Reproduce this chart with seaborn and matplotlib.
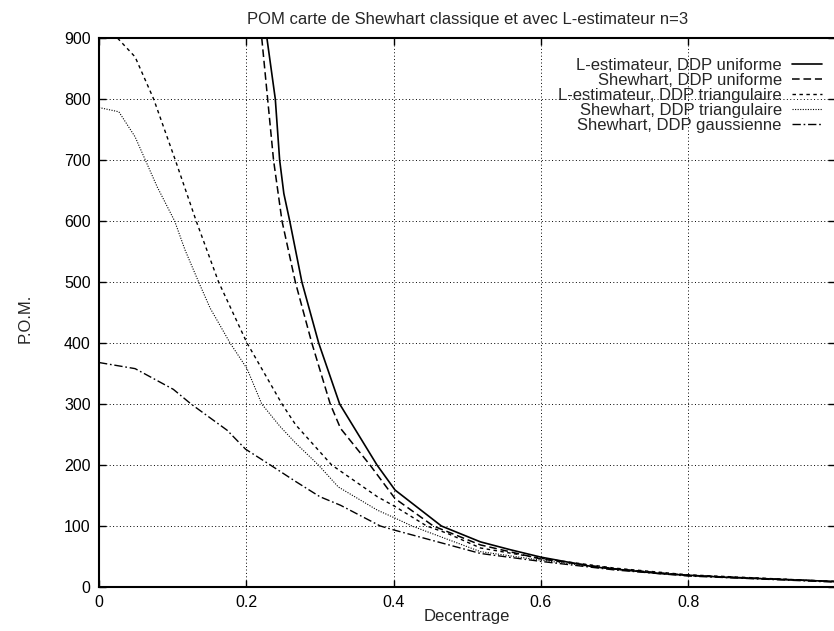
import matplotlib
matplotlib.use("Agg")
import matplotlib.pyplot as plt
import seaborn as sns
import pandas as pd

# ---- data ----
title = "POM carte de Shewhart classique et avec L-estimateur n=3"
xlabel = "Decentrage"
ylabel = "P.O.M."

labels = [
    "L-estimateur, DDP uniforme",
    "Shewhart, DDP uniforme",
    "L-estimateur, DDP triangulaire",
    "Shewhart, DDP triangulaire",
    "Shewhart, DDP gaussienne",
]

x_lest_unif = [0.228, 0.2394, 0.2453, 0.251, 0.259, 0.2755, 0.2983, 0.3268, 0.3775,
               0.402, 0.465, 0.518, 0.559, 0.60, 0.672, 0.762, 0.85, 1.0]
y_lest_unif = [900, 800, 700, 645, 600, 500, 400, 300, 200,
               159, 100, 74, 61, 49, 33, 22, 16, 9]

x_shew_unif = [0.221, 0.229, 0.237, 0.2485, 0.2666, 0.289, 0.314, 0.328, 0.368,
               0.402, 0.454, 0.518, 0.60, 0.70, 0.80, 1.0]
y_shew_unif = [900, 800, 700, 600, 500, 400, 300, 260, 200,
               145, 100, 69, 46, 30, 19, 9]

x_lest_tri = [0.0, 0.025, 0.049, 0.0742, 0.1036, 0.132, 0.1624, 0.201, 0.2485,
              0.267, 0.316, 0.378, 0.402, 0.445, 0.473, 0.518, 0.60, 0.70, 0.80, 1.0]
y_lest_tri = [915, 900, 869, 800, 700, 600, 500, 400, 300,
              266, 200, 148, 132, 100, 88, 64, 47, 31, 20, 9]

x_shew_tri = [0.0, 0.027, 0.049, 0.0629, 0.079, 0.1027, 0.117, 0.1353, 0.151, 0.178,
              0.201, 0.221, 0.246, 0.267, 0.298, 0.325, 0.378, 0.402, 0.425, 0.518,
              0.60, 0.70, 0.80, 1.0]
y_shew_tri = [786, 779, 738, 700, 656, 600, 552, 500, 457, 400,
              358, 300, 263, 236, 200, 164, 126, 113, 100, 58,
              44, 29, 19, 9]

x_shew_gauss = [0.0, 0.049, 0.101, 0.125, 0.174, 0.199, 0.2327, 0.267, 0.300, 0.328,
                0.382, 0.402, 0.518, 0.60, 0.70, 0.80, 1.0]
y_shew_gauss = [368, 358, 324, 300, 257, 226, 200, 173, 148, 134,
                100, 93, 55, 42, 28, 18, 8]

xticks = [0, 0.2, 0.4, 0.6, 0.8]
xticklabels = ["0", "0.2", "0.4", "0.6", "0.8"]
yticks = [0, 100, 200, 300, 400, 500, 600, 700, 800, 900]

series_x = [x_lest_unif, x_shew_unif, x_lest_tri, x_shew_tri, x_shew_gauss]
series_y = [y_lest_unif, y_shew_unif, y_lest_tri, y_shew_tri, y_shew_gauss]

styles = [
    dict(linestyle="-", linewidth=1.2),
    dict(linestyle=(0, (5, 2.5)), linewidth=1.1),
    dict(linestyle=(0, (2.5, 2.5)), linewidth=1.0),
    dict(linestyle=(0, (1, 1.3)), linewidth=0.8),
    dict(linestyle=(0, (6, 2, 1.2, 2)), linewidth=1.0),
]

# ---- plot ----
sns.set_style("ticks")
plt.rcParams["font.family"] = ["Liberation Sans", "DejaVu Sans"]
plt.rcParams["font.size"] = 12

fig = plt.figure(figsize=(8.34, 6.31), dpi=100)
ax = fig.add_axes([0.1187, 0.0697, 0.8830, 0.8701])

for xs, ys, lab, st in zip(series_x, series_y, labels, styles):
    df = pd.DataFrame({"x": xs, "y": ys})
    sns.lineplot(data=df, x="x", y="y", ax=ax, color="black", label=lab,
                 estimator=None, sort=True, **st)

ax.set_xlim(0, 1)
ax.set_ylim(0, 900)
ax.set_xticks(xticks)
ax.set_xticklabels(xticklabels)
ax.set_yticks(yticks)
ax.grid(True, color="black", linestyle=(0, (1, 2.5)), linewidth=0.7)
ax.set_axisbelow(True)

ax.tick_params(direction="in", length=5, width=1.0, top=True, right=True,
               labelsize=11.5, colors="black", pad=6)
for sp in ax.spines.values():
    sp.set_visible(True)
    sp.set_color("black")
    sp.set_linewidth(1.5)

ax.set_title(title, fontsize=12, pad=10)
ax.set_xlabel(xlabel, fontsize=12, labelpad=-1)
ax.set_ylabel(ylabel, fontsize=12)
ax.yaxis.set_label_coords(-0.09, 0.49)

leg = ax.legend(loc="upper right", bbox_to_anchor=(0.9815, 0.964), frameon=False,
                markerfirst=False, handlelength=1.8, handletextpad=0.6,
                labelspacing=0.0, borderaxespad=0, borderpad=0, fontsize=12)

fig.savefig("out.png", dpi=100)
